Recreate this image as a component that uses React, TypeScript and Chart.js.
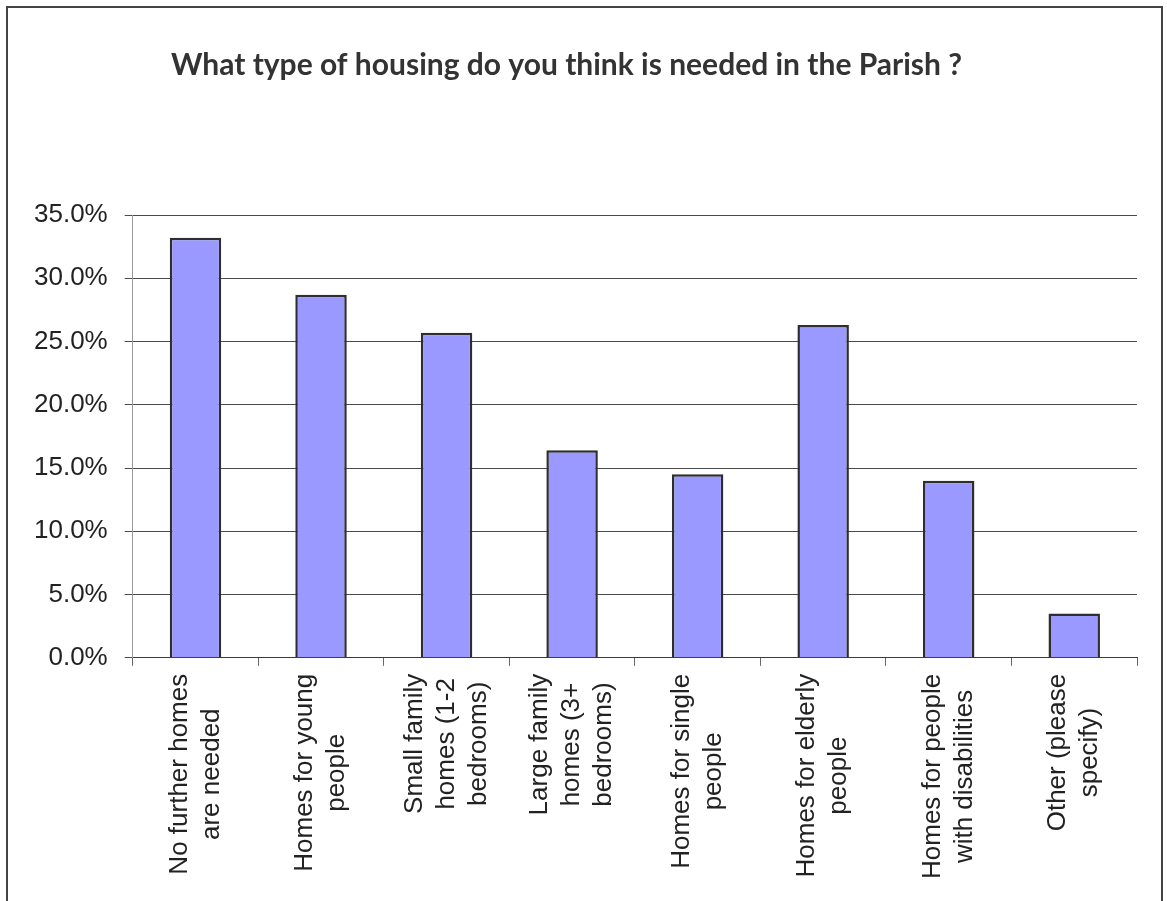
import React, { useEffect, useRef } from 'react';
import { Chart, registerables } from 'chart.js';

Chart.register(...registerables);

const TITLE = 'What type of housing do you think is needed in the Parish ?';

const categories: string[][] = [
  ['No further homes', 'are needed'],
  ['Homes for young', 'people'],
  ['Small family', 'homes (1-2', 'bedrooms)'],
  ['Large family', 'homes (3+', 'bedrooms)'],
  ['Homes for single', 'people'],
  ['Homes for elderly', 'people'],
  ['Homes for people', 'with disabilities'],
  ['Other (please', 'specify)'],
];

const values = [33.2, 28.7, 25.7, 16.4, 14.5, 26.3, 14.0, 3.5];

const yMin = 0;
const yMax = 35;
const yStep = 5;

const LABEL_FONT = '26px "Liberation Sans", Arial, sans-serif';
const LABEL_LINE = 32;

const titlePlugin = {
  id: 'customTitle',
  afterDraw(chart: any) {
    const ctx = chart.ctx;
    ctx.save();
    ctx.font = 'bold 30px Lato, "Open Sans", sans-serif';
    ctx.fillStyle = '#333333';
    ctx.textAlign = 'center';
    ctx.textBaseline = 'middle';
    ctx.fillText(TITLE, chart.width / 2 - 18, 57);
    ctx.restore();
  },
};

const xLabelPlugin = {
  id: 'centeredXLabels',
  afterDraw(chart: any) {
    const ctx = chart.ctx;
    const xs = chart.scales.x;
    const labels = chart.data.labels as string[][];
    ctx.save();
    ctx.font = LABEL_FONT;
    ctx.fillStyle = '#222222';
    ctx.textAlign = 'center';
    ctx.textBaseline = 'middle';
    const top = xs.top + 8 + 8;
    labels.forEach((lines, i) => {
      const x = xs.getPixelForTick(i);
      const maxW = Math.max(...lines.map((l) => ctx.measureText(l).width));
      ctx.save();
      ctx.translate(x, top);
      ctx.rotate(-Math.PI / 2);
      const n = lines.length;
      lines.forEach((l, j) => {
        ctx.fillText(l, -maxW / 2, (j - (n - 1) / 2) * LABEL_LINE);
      });
      ctx.restore();
    });
    ctx.restore();
  },
};

export default function App() {
  const ref = useRef<HTMLCanvasElement | null>(null);

  useEffect(() => {
    if (!ref.current) return;
    const chart = new Chart(ref.current, {
      type: 'bar',
      data: {
        labels: categories,
        datasets: [
          {
            data: values,
            backgroundColor: '#9999FF',
            borderColor: '#2e2e2e',
            borderWidth: 2.5,
            barPercentage: 0.41,
            categoryPercentage: 1,
          },
        ],
      },
      options: {
        animation: false,
        responsive: false,
        maintainAspectRatio: false,
        layout: { padding: { top: 207, left: 9, right: 24, bottom: 17 } },
        plugins: {
          legend: { display: false },
          title: { display: false },
          tooltip: { enabled: false },
        },
        scales: {
          x: {
            grid: {
              display: true,
              drawOnChartArea: false,
              drawTicks: true,
              tickLength: 8,
              color: '#666666',
              offset: true,
            },
            border: { display: true, color: '#3a3a3a', width: 1 },
            ticks: {
              color: 'rgba(0,0,0,0)',
              font: { family: '"Liberation Sans", Arial, sans-serif', size: 26, lineHeight: LABEL_LINE / 26 },
              minRotation: 90,
              maxRotation: 90,
              autoSkip: false,
              padding: 8,
            },
          },
          y: {
            min: yMin,
            max: yMax,
            grid: {
              color: '#4a4a4a',
              drawTicks: true,
              tickLength: 8,
            },
            border: { display: true, color: '#999999', width: 1 },
            ticks: {
              stepSize: yStep,
              color: '#222222',
              padding: 17,
              font: { family: '"Liberation Sans", Arial, sans-serif', size: 26 },
              callback: (v: any) => Number(v).toFixed(1) + '%',
            },
          },
        },
      },
      plugins: [titlePlugin, xLabelPlugin],
    });
    return () => chart.destroy();
  }, []);

  return (
    <div style={{ position: 'absolute', left: 0, top: 0, width: 1167, height: 901, overflow: 'hidden', background: '#fff' }}>
      <div
        style={{
          position: 'absolute',
          left: 6,
          top: 6,
          width: 1153,
          height: 910,
          border: '2px solid #444444',
          background: '#fff',
        }}
      >
        <canvas ref={ref} width={1153} height={896} style={{ display: 'block', width: 1153, height: 896 }} />
      </div>
    </div>
  );
}
